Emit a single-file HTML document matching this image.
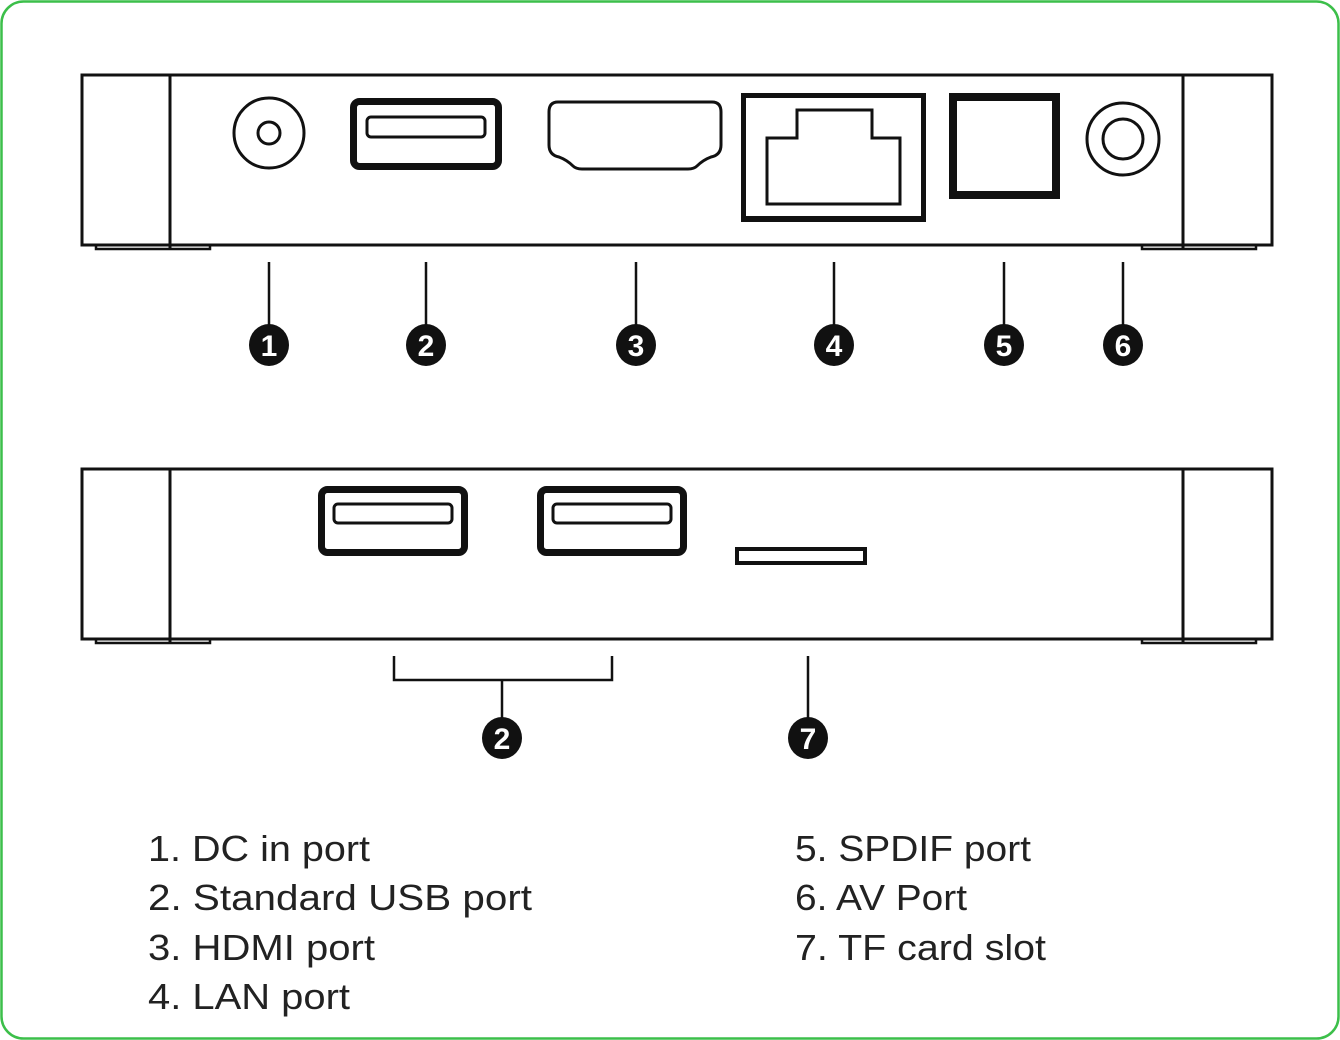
<!DOCTYPE html>
<html><head><meta charset="utf-8"><style>
html,body{margin:0;padding:0;background:#fff;}
svg{display:block;}
</style></head><body>
<svg width="1340" height="1040" viewBox="0 0 1340 1040" xmlns="http://www.w3.org/2000/svg">
<rect x="1.5" y="1.5" width="1337" height="1037" rx="22" fill="#fff" stroke="#3cbf4a" stroke-width="2.5"/>
<g fill="none" stroke="#111">
<!-- top box -->
<rect x="82" y="75" width="1190" height="170" stroke-width="3"/>
<line x1="170" y1="75" x2="170" y2="250" stroke-width="3"/>
<line x1="1183" y1="75" x2="1183" y2="250" stroke-width="3"/>
<path d="M96 245 V249 H210 V245" stroke-width="2.5"/>
<path d="M1142 245 V249 H1256 V245" stroke-width="2.5"/>
<!-- DC -->
<ellipse cx="269" cy="133" rx="35" ry="35" stroke-width="3"/>
<circle cx="269" cy="133" r="11" stroke-width="3"/>
<!-- USB -->
<rect x="353.5" y="101.5" width="145" height="65" rx="6" stroke-width="7"/>
<rect x="367" y="117" width="118" height="20" rx="4" stroke-width="3"/>
<!-- HDMI -->
<path d="M558 102 H712 Q721 102 721 112 V145 Q721 155 711 157 Q703 160 697 166 Q694 169 688 169 H582 Q576 169 573 166 Q567 160 559 157 Q549 155 549 145 V112 Q549 102 558 102 Z" stroke-width="3"/>
<!-- LAN -->
<rect x="743.5" y="95.5" width="180" height="124" stroke-width="5"/>
<line x1="741" y1="219" x2="926" y2="219" stroke-width="6"/>
<path d="M767 138 H797 V110 H872 V138 H900 V204 H767 Z" stroke-width="3"/>
<!-- SPDIF -->
<rect x="953" y="97" width="103" height="98" stroke-width="8"/>
<!-- AV -->
<circle cx="1123" cy="139" r="36" stroke-width="3"/>
<circle cx="1123" cy="139" r="20" stroke-width="3"/>
<!-- leaders -->
<g stroke-width="2.5">
<line x1="269" y1="262" x2="269" y2="330"/>
<line x1="426" y1="262" x2="426" y2="330"/>
<line x1="636" y1="262" x2="636" y2="330"/>
<line x1="834" y1="262" x2="834" y2="330"/>
<line x1="1004" y1="262" x2="1004" y2="330"/>
<line x1="1123" y1="262" x2="1123" y2="330"/>
</g>
<!-- bottom box -->
<rect x="82" y="469" width="1190" height="170" stroke-width="3"/>
<line x1="170" y1="469" x2="170" y2="644" stroke-width="3"/>
<line x1="1183" y1="469" x2="1183" y2="644" stroke-width="3"/>
<path d="M96 639 V643 H210 V639" stroke-width="2.5"/>
<path d="M1142 639 V643 H1256 V639" stroke-width="2.5"/>
<rect x="321.5" y="489.5" width="143" height="63" rx="6" stroke-width="7"/>
<rect x="334" y="504" width="118" height="19" rx="4" stroke-width="3"/>
<rect x="540.5" y="489.5" width="143" height="63" rx="6" stroke-width="7"/>
<rect x="553" y="504" width="118" height="19" rx="4" stroke-width="3"/>
<rect x="737" y="549" width="128" height="14" stroke-width="4"/>
<path d="M394 656 V680 H612 V656" stroke-width="2.5"/>
<line x1="502" y1="680" x2="502" y2="722" stroke-width="2.5"/>
<line x1="808" y1="656" x2="808" y2="722" stroke-width="2.5"/>
</g>
<g fill="#111">
<ellipse cx="269" cy="345" rx="20" ry="21"/>
<ellipse cx="426" cy="345" rx="20" ry="21"/>
<ellipse cx="636" cy="345" rx="20" ry="21"/>
<ellipse cx="834" cy="345" rx="20" ry="21"/>
<ellipse cx="1004" cy="345" rx="20" ry="21"/>
<ellipse cx="1123" cy="345" rx="20" ry="21"/>
<ellipse cx="502" cy="738" rx="20" ry="21"/>
<ellipse cx="808" cy="738" rx="20" ry="21"/>
</g>
<g fill="#fff" font-family="Liberation Sans, sans-serif" font-weight="bold" font-size="30" text-anchor="middle">
<text x="269" y="356">1</text>
<text x="426" y="356">2</text>
<text x="636" y="356">3</text>
<text x="834" y="356">4</text>
<text x="1004" y="356">5</text>
<text x="1123" y="356">6</text>
<text x="502" y="749">2</text>
<text x="808" y="749">7</text>
</g>
<g fill="#222" font-family="Liberation Sans, sans-serif" font-size="36">
<text x="148" y="861" textLength="222" lengthAdjust="spacingAndGlyphs">1. DC in port</text>
<text x="148" y="910" textLength="384" lengthAdjust="spacingAndGlyphs">2. Standard USB port</text>
<text x="148" y="960" textLength="227" lengthAdjust="spacingAndGlyphs">3. HDMI port</text>
<text x="148" y="1009" textLength="202" lengthAdjust="spacingAndGlyphs">4. LAN port</text>
<text x="795" y="861" textLength="236" lengthAdjust="spacingAndGlyphs">5. SPDIF port</text>
<text x="795" y="910" textLength="172" lengthAdjust="spacingAndGlyphs">6. AV Port</text>
<text x="795" y="960" textLength="251" lengthAdjust="spacingAndGlyphs">7. TF card slot</text>
</g>
</svg>
</body></html>
